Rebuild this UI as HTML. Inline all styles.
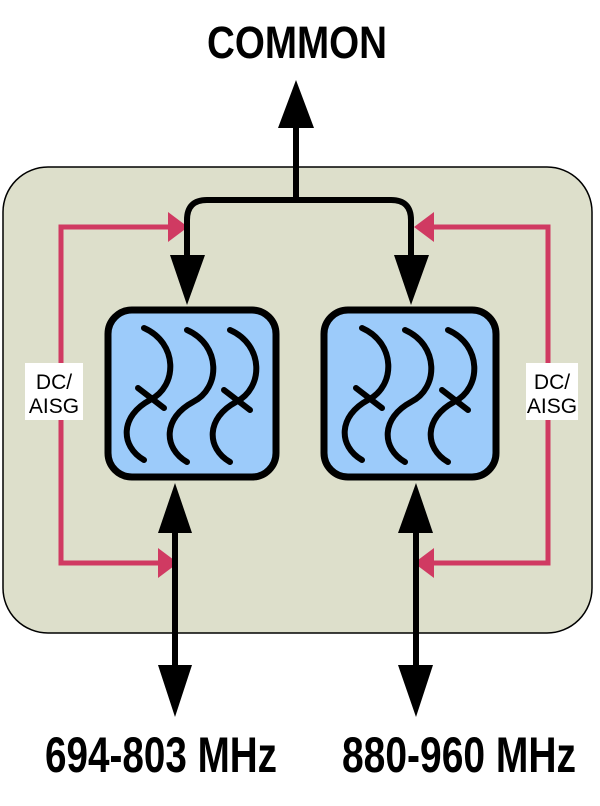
<!DOCTYPE html>
<html><head><meta charset="utf-8"><style>html,body{margin:0;padding:0;background:#fff}svg{display:block}</style></head>
<body>
<svg width="600" height="806" viewBox="0 0 600 806" xmlns="http://www.w3.org/2000/svg">
<defs>
<g id="waves" fill="none" stroke="#000" stroke-width="6" stroke-linecap="round">
  <path d="M36,18 C70,33 70,76 42,90 C12,106 12,136 36,150"/>
  <path d="M79,20 C113,35 113,78 85,92 C55,108 55,138 79,152"/>
  <path d="M122,20 C156,35 156,78 128,92 C98,108 98,138 122,152"/>
  <path d="M30,78 L56,98"/>
  <path d="M116,80 L142,100"/>
</g>
</defs>
<rect x="3" y="167" width="589" height="466" rx="45" fill="#dddfcb" stroke="#000" stroke-width="1.5"/>
<g fill="none" stroke="#d03a62" stroke-width="5">
  <path d="M170,227 H61 V563 H160"/>
  <path d="M432,227 H548 V563 H432"/>
</g>
<g fill="#d03a62">
  <polygon points="168,212 188,227 168,242"/>
  <polygon points="158,548 178,563 158,578"/>
  <polygon points="434,212 414,227 434,242"/>
  <polygon points="434,548 414,563 434,578"/>
</g>
<rect x="25" y="363" width="58" height="57" fill="#fff"/>
<text x="54" y="389" font-family="Liberation Sans, sans-serif" font-size="21" text-anchor="middle">DC/</text>
<text x="54" y="413" font-family="Liberation Sans, sans-serif" font-size="21" text-anchor="middle">AISG</text>
<rect x="526" y="363" width="52" height="57" fill="#fff"/>
<text x="552" y="389" font-family="Liberation Sans, sans-serif" font-size="21" text-anchor="middle">DC/</text>
<text x="552" y="413" font-family="Liberation Sans, sans-serif" font-size="21" text-anchor="middle">AISG</text>
<g fill="none" stroke="#000" stroke-width="6">
  <path d="M296,120 V200"/>
  <path d="M187,262 V220 Q187,200 207,200 H391 Q411,200 411,220 V262"/>
  <path d="M175,525 V670"/>
  <path d="M416,525 V670"/>
</g>
<g fill="#000">
  <polygon points="278,128 296,80 314,128"/>
  <polygon points="170,255 187,305 205,255"/>
  <polygon points="394,255 411,305 429,255"/>
  <polygon points="158,533 175,483 192,533"/>
  <polygon points="158,665 175,717 192,665"/>
  <polygon points="398,533 416,483 433,533"/>
  <polygon points="398,665 416,717 433,665"/>
</g>
<rect x="108" y="310" width="168" height="167" rx="24" fill="#9ccbfa" stroke="#000" stroke-width="7"/>
<rect x="324" y="310" width="172" height="167" rx="24" fill="#9ccbfa" stroke="#000" stroke-width="7"/>
<use href="#waves" x="108" y="310"/>
<use href="#waves" x="326" y="310"/>
<text x="297" y="58" font-family="Liberation Sans, sans-serif" font-weight="bold" font-size="45" text-anchor="middle" textLength="180" lengthAdjust="spacingAndGlyphs">COMMON</text>
<text x="45" y="772" font-family="Liberation Sans, sans-serif" font-weight="bold" font-size="50" textLength="232" lengthAdjust="spacingAndGlyphs">694-803 MHz</text>
<text x="342" y="772" font-family="Liberation Sans, sans-serif" font-weight="bold" font-size="50" textLength="234" lengthAdjust="spacingAndGlyphs">880-960 MHz</text>
</svg>
</body></html>
